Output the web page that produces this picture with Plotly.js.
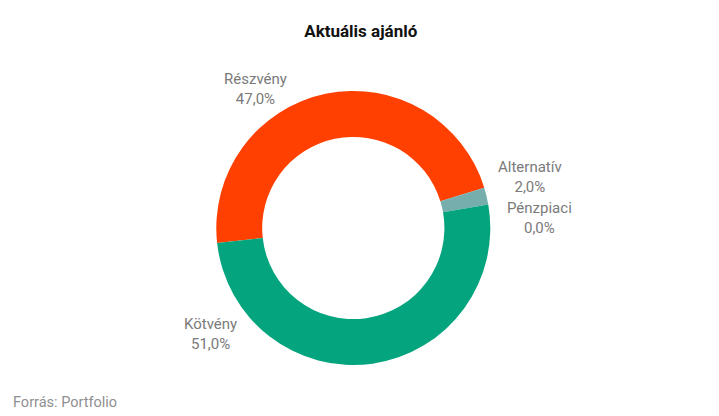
<!DOCTYPE html>
<html>
<head>
<meta charset="utf-8">
<script src="https://cdn.plot.ly/plotly-3.0.1.min.js"></script>
<style>html,body{margin:0;padding:0;background:#fff;}#chart{width:719px;height:416px;}</style>
</head>
<body>
<div id="chart"></div>
<script>
// Data
const categories = ["Részvény", "Alternatív", "Pénzpiaci", "Kötvény"];
const shares = [47.0, 2.0, 0.0, 51.0];
const sliceColors = ["#FF4000", "#76AEAE", "#2F7ED8", "#04A57E"];

// Label placement (layout, pixel positions of label block centres)
const labelPos = [
  {x: 255, y: 89},
  {x: 530, y: 177},
  {x: 539.5, y: 217.5},
  {x: 210.7, y: 333.5}
];

const W = 719, H = 416;
const cx = 353.3, cy = 228, R = 137;

const fmt = v => v.toFixed(1).replace('.', ',') + '%';

const trace = {
  type: 'pie',
  labels: categories,
  values: shares,
  marker: {colors: sliceColors, line: {width: 0}},
  hole: 0.665,
  sort: false,
  direction: 'clockwise',
  rotation: -96.3,
  textinfo: 'none',
  hoverinfo: 'label+percent',
  showlegend: false,
  domain: {
    x: [(cx - R) / W, (cx + R) / W],
    y: [(H - cy - R) / H, (H - cy + R) / H]
  }
};

const annotations = categories.map((c, i) => ({
  xref: 'paper', yref: 'paper',
  x: labelPos[i].x / W, y: 1 - labelPos[i].y / H,
  xanchor: 'center', yanchor: 'middle',
  text: c + '<br>' + fmt(shares[i]),
  showarrow: false,
  align: 'center',
  font: {family: 'Roboto, sans-serif', size: 15, color: '#7a7a7a'}
}));
annotations.push({
  xref: 'paper', yref: 'paper',
  x: 11 / W, y: 1 - 402 / H,
  xanchor: 'left', yanchor: 'middle',
  text: 'Forrás: Portfolio',
  showarrow: false,
  font: {family: 'Roboto, sans-serif', size: 14.5, color: '#8f8f8f'}
});

const layout = {
  width: W, height: H,
  margin: {l: 0, r: 0, t: 0, b: 0},
  paper_bgcolor: '#ffffff',
  title: {
    text: '<b>Aktuális ajánló</b>',
    x: 360.8 / W, xanchor: 'center',
    y: 1 - 31.5 / H, yanchor: 'middle',
    xref: 'paper', yref: 'container',
    font: {family: 'Roboto, sans-serif', size: 17, color: '#111111'}
  },
  annotations: annotations
};

Plotly.newPlot('chart', [trace], layout, {displayModeBar: false, staticPlot: true});
</script>
</body>
</html>
